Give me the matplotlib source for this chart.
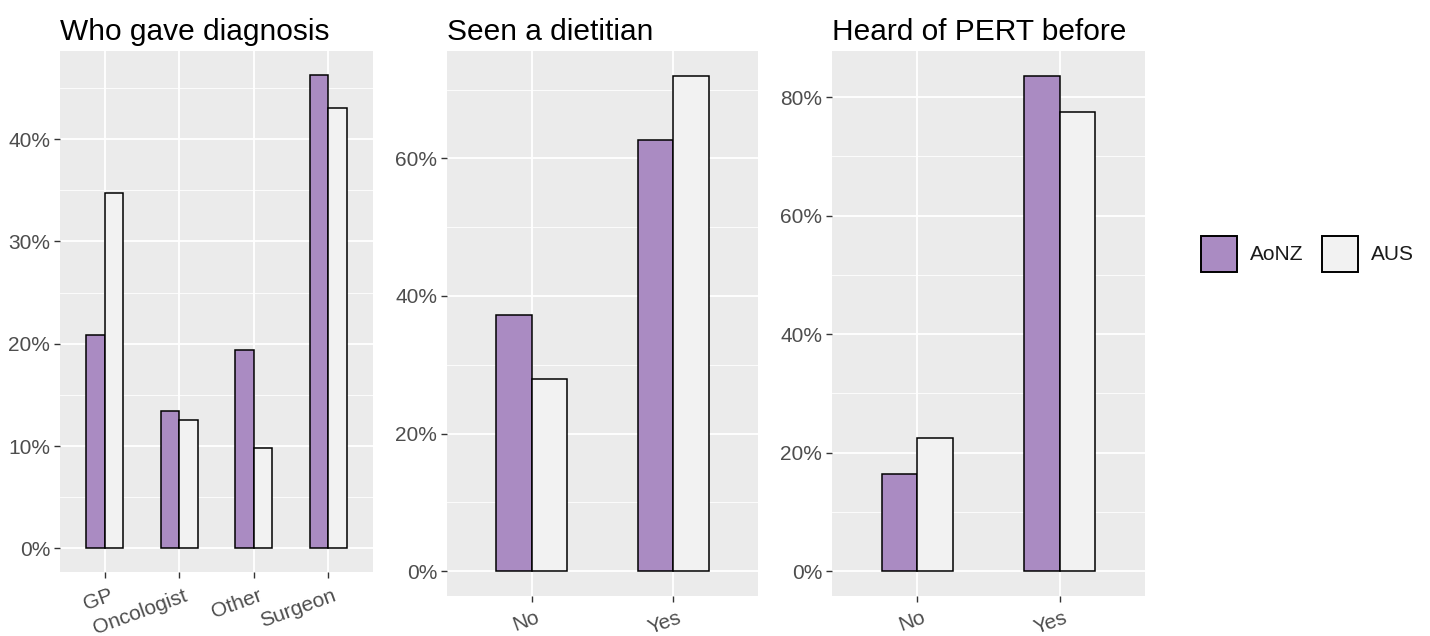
import matplotlib
matplotlib.use("Agg")
import matplotlib.pyplot as plt
from matplotlib.patches import Patch
from matplotlib.ticker import FuncFormatter, MultipleLocator
from matplotlib.transforms import ScaledTranslation
import numpy as np

plt.rcParams['font.family'] = ['Liberation Sans', 'DejaVu Sans']

groups = ['AoNZ', 'AUS']
colours = ['#AA8BC2', '#F2F2F2']

diag_cats = ['GP', 'Oncologist', 'Other', 'Surgeon']
diag_aonz = [20.9, 13.4, 19.4, 46.3]
diag_aus = [34.7, 12.5, 9.8, 43.0]

diet_cats = ['No', 'Yes']
diet_aonz = [37.3, 62.7]
diet_aus = [28.0, 72.0]

pert_cats = ['No', 'Yes']
pert_aonz = [16.4, 83.6]
pert_aus = [22.5, 77.5]

W, H = 1430, 636
fig = plt.figure(figsize=(W / 100, H / 100), dpi=100)


def px_axes(left, top, right, bottom):
    return fig.add_axes([left / W, 1 - bottom / H, (right - left) / W, (bottom - top) / H])


def panel(ax, title, cats, aonz, aus, step, xpad=6):
    x = np.arange(1, len(cats) + 1)
    w = 0.25
    ax.bar(x - w / 2, aonz, w, color=colours[0], edgecolor='black', linewidth=1.1, zorder=3)
    ax.bar(x + w / 2, aus, w, color=colours[1], edgecolor='black', linewidth=1.1, zorder=3)
    top = max(max(aonz), max(aus))
    ax.set_ylim(-0.05 * top, 1.05 * top)
    ax.set_xlim(0.4, len(cats) + 0.6)
    ax.set_facecolor('#EBEBEB')
    for s in ax.spines.values():
        s.set_visible(False)
    ax.yaxis.set_major_locator(MultipleLocator(step))
    ax.yaxis.set_minor_locator(MultipleLocator(step / 2))
    ax.yaxis.set_major_formatter(FuncFormatter(lambda v, p: f'{v:.0f}%'))
    ax.grid(which='major', color='white', linewidth=1.3, zorder=0)
    ax.grid(which='minor', axis='y', color='white', linewidth=0.6, zorder=0)
    ax.set_axisbelow(True)
    ax.set_xticks(x)
    ax.set_xticklabels(cats, rotation=20, ha='right', va='top', rotation_mode='anchor')
    ax.tick_params(which='major', length=4, width=1, color='#333333', labelcolor='#4D4D4D',
                   labelsize=15, pad=3)
    ax.tick_params(axis='x', pad=xpad)
    ax.tick_params(which='minor', length=0)
    # nudge the slanted category labels a little to the right
    shift = ScaledTranslation(4 / 100, 0, fig.dpi_scale_trans)
    for lab in ax.get_xticklabels():
        lab.set_transform(lab.get_transform() + shift)
    ax.set_title(title, loc='left', fontsize=21.5, pad=8, x=0.0)


ax1 = px_axes(60, 51, 373, 572)
panel(ax1, 'Who gave diagnosis', diag_cats, diag_aonz, diag_aus, 10)
ax2 = px_axes(447, 51, 758, 596)
panel(ax2, 'Seen a dietitian', diet_cats, diet_aonz, diet_aus, 20, xpad=4.5)
ax3 = px_axes(832, 51, 1145, 596)
panel(ax3, 'Heard of PERT before', pert_cats, pert_aonz, pert_aus, 20, xpad=4.5)

handles = [Patch(facecolor=c, edgecolor='black', linewidth=1.4, label=g) for c, g in zip(colours, groups)]
fig.legend(handles=handles, loc='center left', bbox_to_anchor=(1182 / W, 1 - 254 / H), ncol=2,
           frameon=False, fontsize=15, handlelength=1.75, handleheight=2.3,
           handletextpad=0.6, columnspacing=0.9, labelcolor='#1A1A1A')

fig.savefig('out.png', dpi=100, facecolor='white')
